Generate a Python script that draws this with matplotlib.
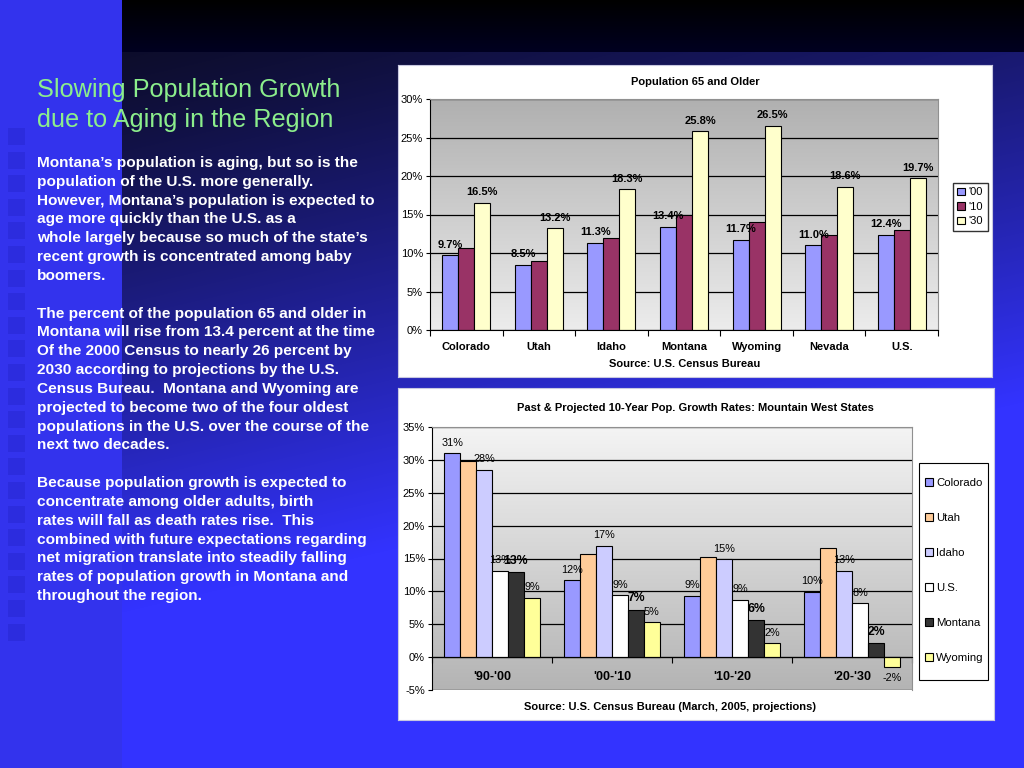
import numpy as np
import matplotlib
matplotlib.use("Agg")
import matplotlib.pyplot as plt
from matplotlib.patches import Rectangle
from matplotlib.colors import LinearSegmentedColormap

plt.rcParams["font.family"] = ["Liberation Sans", "DejaVu Sans"]

# --- data: population 65 and older ---
states_65 = ["Colorado", "Utah", "Idaho", "Montana", "Wyoming", "Nevada", "U.S."]
years_65 = ["'00", "'10", "'30"]
pct_00 = [9.7, 8.5, 11.3, 13.4, 11.7, 11.0, 12.4]
pct_10 = [10.6, 9.0, 12.0, 14.9, 14.0, 12.3, 13.0]
pct_30 = [16.5, 13.2, 18.3, 25.8, 26.5, 18.6, 19.7]

# --- data: 10-year growth rates ---
decades = ["'90-'00", "'00-'10", "'10-'20", "'20-'30"]
growth_states = ["Colorado", "Utah", "Idaho", "U.S.", "Montana", "Wyoming"]
g_colorado = [31.0, 11.7, 9.3, 9.9]
g_utah = [29.8, 15.7, 15.2, 16.6]
g_idaho = [28.5, 16.9, 14.9, 13.1]
g_us = [13.1, 9.4, 8.7, 8.2]
g_montana = [12.9, 7.2, 5.6, 2.1]
g_wyoming = [9.0, 5.3, 2.1, -1.5]

title_lines = ["Slowing Population Growth", "due to Aging in the Region"]
body_lines = [
    "Montana’s population is aging, but so is the",
    "population of the U.S. more generally.",
    "However, Montana’s population is expected to",
    "age more quickly than the U.S. as a",
    "whole largely because so much of the state’s",
    "recent growth is concentrated among baby",
    "boomers.",
    "",
    "The percent of the population 65 and older in",
    "Montana will rise from 13.4 percent at the time",
    "Of the 2000 Census to nearly 26 percent by",
    "2030 according to projections by the U.S.",
    "Census Bureau.  Montana and Wyoming are",
    "projected to become two of the four oldest",
    "populations in the U.S. over the course of the",
    "next two decades.",
    "",
    "Because population growth is expected to",
    "concentrate among older adults, birth",
    "rates will fall as death rates rise.  This",
    "combined with future expectations regarding",
    "net migration translate into steadily falling",
    "rates of population growth in Montana and",
    "throughout the region.",
]

W, H = 1024, 768


def box(l, t, r, b):
    return [l / W, 1 - b / H, (r - l) / W, (b - t) / H]


fig = plt.figure(figsize=(10.24, 7.68), dpi=100)

# slide background
bg = fig.add_axes([0, 0, 1, 1])
yy, xx = np.mgrid[0:H, 0:W]
t = np.clip((yy - 52) / 560 + (xx - 122) / 2400, 0, 1) ** 1.15
img = np.zeros((H, W, 3))
img[..., 0] = 0.05 + 0.15 * t
img[..., 1] = 0.05 + 0.15 * t
img[..., 2] = 0.17 + 0.83 * t
top = yy < 52
img[top, 0] = 0.0
img[top, 1] = 0.0
img[top, 2] = 0.13 * yy[top] / 52
left = xx < 122
img[left, 0] = 0.2
img[left, 1] = 0.2
img[left, 2] = 0.93
bg.imshow(img, extent=[0, W, H, 0], aspect="auto")
for sy in np.arange(128, 625, 23.6):
    bg.add_patch(Rectangle((8, sy), 17, 17, color=(0.14, 0.14, 0.8), alpha=0.45, lw=0))
bg.set_xlim(0, W)
bg.set_ylim(H, 0)
bg.axis("off")

# left text
for i, line in enumerate(title_lines):
    fig.text(37 / W, 1 - (90 + i * 30) / H, line, color="#8cee8c",
             fontsize=18.2, va="center", ha="left")
for i, line in enumerate(body_lines):
    fig.text(37 / W, 1 - (163 + i * 18.83) / H, line, color="white",
             fontsize=11.1, fontweight="bold", va="center", ha="left")

# white chart panels
for l, tp, r, b in [(398, 65, 992, 377), (398, 388, 994, 720)]:
    pnl = fig.add_axes(box(l, tp, r, b))
    pnl.set_facecolor("white")
    pnl.set_xticks([])
    pnl.set_yticks([])
    for sp in pnl.spines.values():
        sp.set_color("#c8c8e0")
        sp.set_linewidth(0.8)


def style_axes(ax, ylo, yhi, xlo, xhi, c_top, c_bot):
    cmap = LinearSegmentedColormap.from_list("g", [c_bot, c_top])
    grad = np.linspace(1, 0, 256).reshape(-1, 1)
    ax.imshow(grad, cmap=cmap, extent=[xlo, xhi, ylo, yhi], aspect="auto",
              zorder=0, vmin=0, vmax=1)
    ax.set_xlim(xlo, xhi)
    ax.set_ylim(ylo, yhi)
    for yv in np.arange(ylo, yhi + 0.1, 5):
        ax.axhline(yv, color="black", lw=0.9, zorder=1)
    ax.set_yticks(np.arange(ylo, yhi + 0.1, 5))
    ax.set_yticklabels([f"{int(v)}%" for v in np.arange(ylo, yhi + 0.1, 5)])
    ax.tick_params(axis="y", labelsize=8, length=3, width=0.8, pad=2)
    ax.spines["left"].set_color("black")
    ax.spines["top"].set_color("#909090")
    ax.spines["right"].set_color("#909090")


# ---- top chart ----
ax1 = fig.add_axes(box(430, 99, 938, 330))
n1 = len(states_65)
style_axes(ax1, 0, 30, -0.5, n1 - 0.5, "#b0b0b0", "#ececec")
x1 = np.arange(n1)
bw1 = 0.22
b00 = ax1.bar(x1 - bw1, pct_00, bw1, color="#9999ff", edgecolor="black", lw=0.8, zorder=2, label=years_65[0])
b10 = ax1.bar(x1, pct_10, bw1, color="#993366", edgecolor="black", lw=0.8, zorder=2, label=years_65[1])
b30 = ax1.bar(x1 + bw1, pct_30, bw1, color="#ffffcc", edgecolor="black", lw=0.8, zorder=2, label=years_65[2])
ax1.bar_label(b00, labels=[f"{v:.1f}%" for v in pct_00], padding=4, fontsize=8, fontweight="bold", zorder=3)
ax1.bar_label(b30, labels=[f"{v:.1f}%" for v in pct_30], padding=4, fontsize=8, fontweight="bold", zorder=3)
ax1.set_xticks(np.arange(-0.5, n1, 1))
ax1.set_xticklabels([])
ax1.set_xticks(x1, minor=True)
ax1.set_xticklabels(states_65, minor=True, fontsize=8, fontweight="bold")
ax1.tick_params(axis="x", which="major", length=4, width=0.8)
ax1.tick_params(axis="x", which="minor", length=0, pad=9)
ax1.spines["bottom"].set_color("black")
ax1.legend(loc="upper left", bbox_to_anchor=(953 / W, 1 - 183 / H),
           bbox_transform=fig.transFigure, fontsize=8, frameon=True,
           fancybox=False, edgecolor="black", handlelength=0.7,
           handleheight=0.7, handletextpad=0.3, borderpad=0.4,
           labelspacing=0.4, borderaxespad=0)
fig.text(695 / W, 1 - 82 / H, "Population 65 and Older", fontsize=8,
         fontweight="bold", ha="center", va="center")
fig.text(685 / W, 1 - 364 / H, "Source: U.S. Census Bureau", fontsize=8,
         fontweight="bold", ha="center", va="center")

# ---- bottom chart ----
ax2 = fig.add_axes(box(432, 427, 912, 690))
n2 = len(decades)
style_axes(ax2, -5, 35, -0.5, n2 - 0.5, "#f4f4f4", "#b4b4b4")
x2 = np.arange(n2)
bw2 = 0.133
series = [g_colorado, g_utah, g_idaho, g_us, g_montana, g_wyoming]
colors = ["#9999ff", "#ffcc99", "#ccccff", "#ffffff", "#333333", "#ffff99"]
for i, (name, vals, col) in enumerate(zip(growth_states, series, colors)):
    bars = ax2.bar(x2 + (i - 2.5) * bw2, vals, bw2, color=col, edgecolor="black",
                   lw=0.8, zorder=2, label=name)
    if name == "Utah":
        continue
    bold = "bold" if name == "Montana" else "normal"
    ax2.bar_label(bars, labels=[f"{v:.0f}%" for v in vals], padding=4,
                  fontsize=8.8 if bold == "bold" else 7.8, fontweight=bold, zorder=3)
ax2.spines["bottom"].set_position(("data", 0))
ax2.spines["bottom"].set_color("black")
ax2.set_xticks(np.arange(-0.5, n2, 1))
ax2.set_xticklabels([])
ax2.tick_params(axis="x", length=4, width=0.8)
for xc, lab in zip(x2, decades):
    ax2.text(xc, -3, lab, ha="center", va="center", fontsize=9, fontweight="bold")

# legend: frameless entries plus a separate frame box
ax2.add_patch(Rectangle((919 / W, 1 - 680 / H), (988 - 919) / W, (680 - 463) / H,
                        transform=fig.transFigure, facecolor="white",
                        edgecolor="black", lw=0.8, zorder=5, clip_on=False))
leg2 = ax2.legend(loc="upper left", bbox_to_anchor=(925 / W, 1 - 478 / H),
                  bbox_transform=fig.transFigure, fontsize=8.2, frameon=False,
                  handlelength=0.7, handleheight=0.7, handletextpad=0.3,
                  borderpad=0, labelspacing=2.2, borderaxespad=0)
leg2.set_zorder(6)
fig.text(695 / W, 1 - 408 / H,
         "Past & Projected 10-Year Pop. Growth Rates: Mountain West States",
         fontsize=8, fontweight="bold", ha="center", va="center")
fig.text(670 / W, 1 - 707 / H, "Source: U.S. Census Bureau (March, 2005, projections)",
         fontsize=8, fontweight="bold", ha="center", va="center")

fig.savefig("out.png", dpi=100)
